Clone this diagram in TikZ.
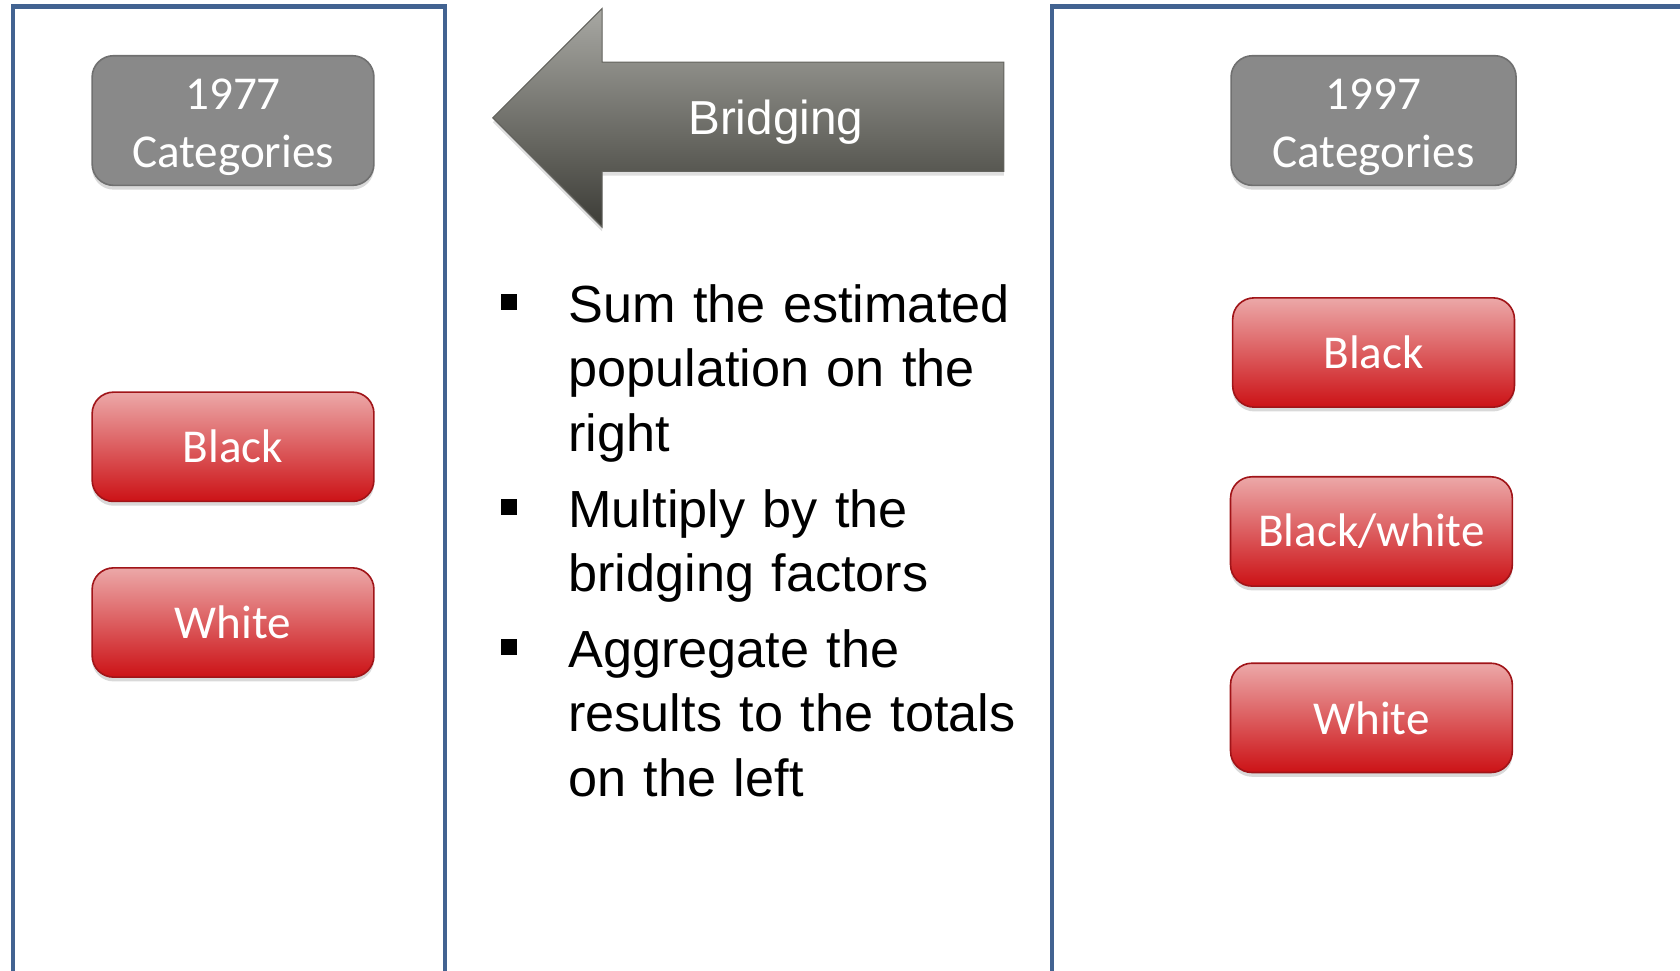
\documentclass[tikz,border=0pt]{standalone}
\usepackage{fontspec}
\setmainfont{Liberation Sans}
\newfontfamily\calibri{Carlito}
\usepackage{tikz}
\usetikzlibrary{positioning,shadows}

\definecolor{framecol}{RGB}{66,99,145}
\definecolor{catfill}{RGB}{137,137,137}
\definecolor{catline}{RGB}{112,112,112}
\definecolor{redtop}{RGB}{236,168,168}
\definecolor{redmid}{RGB}{221,84,84}
\definecolor{redbot}{RGB}{204,18,22}
\definecolor{redline}{RGB}{160,20,24}
\definecolor{arrowtop}{RGB}{168,168,163}
\definecolor{arrowbot}{RGB}{60,60,54}

\begin{document}
\begin{tikzpicture}[
		x=0.4pt, y=-0.4pt,
		FrameStyle/.style={draw=framecol, line width=1.6pt},
		CatBox/.style={draw=catline, line width=0.6pt, fill=catfill,
			rounded corners=8pt, minimum width=105.2pt, minimum height=48.4pt,
			align=center, text=white, inner sep=0pt,
			font=\calibri\fontsize{17.6}{21.6}\selectfont,
			drop shadow={shadow xshift=0pt, shadow yshift=-1.6pt, opacity=0.3}},
		RedBox/.style={draw=redline, line width=0.6pt, rounded corners=8pt,
			top color=redtop, middle color=redmid, bottom color=redbot,
			minimum width=105.2pt, minimum height=40.8pt, text=white,
			inner sep=0pt, font=\calibri\fontsize{17.6}{21.6}\selectfont,
			drop shadow={shadow xshift=0pt, shadow yshift=-1.6pt, opacity=0.3}},
		ItemText/.style={anchor=base west, text width=190pt, align=left,
			inner sep=0pt, font=\fontsize{19.5}{24}\selectfont},
		ItemMark/.style={fill=black, minimum size=6pt, inner sep=0pt},
		]
		\useasboundingbox (0,0) rectangle (1568,906);
		
		% panels
		\draw[FrameStyle] (12,940) -- (12,6) -- (415,6) -- (415,940);
		\draw[FrameStyle] (982,940) -- (982,6) -- (1600,6);
		
		% arrow
		\path[top color=arrowtop, bottom color=arrowbot, draw=arrowbot!80, line width=0.4pt,
			drop shadow={shadow xshift=0pt, shadow yshift=-1.6pt, opacity=0.25}]
			(460,110) -- (562,8) -- (562,58) -- (937,58) -- (937,160)
			-- (562,160) -- (562,212) -- cycle;
		\node[text=white, font=\fontsize{17.8}{21}\selectfont] (bridge) at (724,114) {Bridging};
		
		% left column
		\node[CatBox] (c1) at (217.5,112.5) {\rule{0pt}{16.5pt}1977\\Categories};
		\node[RedBox] (l1) at (217.5,417) {Black};
		\node[RedBox] (l2) at (217.5,581) {White};
		
		% right column
		\node[CatBox, minimum width=106.4pt] (c2) at (1282,112.5) {\rule{0pt}{16.5pt}1997\\Categories};
		\node[RedBox] (r1) at (1282,329) {Black};
		\node[RedBox] (r2) at (1280,496) {Black/white};
		\node[RedBox] (r3) at (1280,670) {White};
		
		% bullet list
		\node[ItemMark] (m1) at (475,282) {};
		\node[ItemMark] (m2) at (475,473) {};
		\node[ItemMark] (m3) at (475,604) {};
		\node[ItemText] (t1) at (530,301) {Sum the estimated\\population on the\\right};
		\node[ItemText] (t2) at (530,492) {Multiply by the\\bridging factors};
		\node[ItemText] (t3) at (530,623) {Aggregate the\\results to the totals\\on the left};
		
\end{tikzpicture}
\end{document}
